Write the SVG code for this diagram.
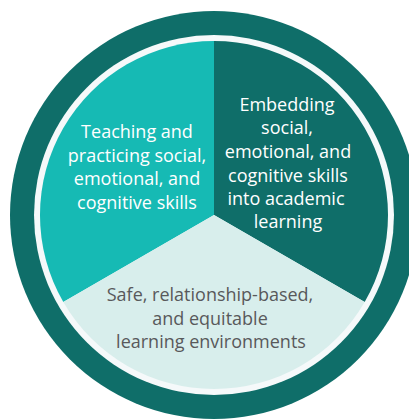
<svg xmlns="http://www.w3.org/2000/svg" width="409" height="419" viewBox="0 0 409 419">
  <style>
    .t { font-family: "Open Sans", "Liberation Sans", sans-serif; font-size: 18px; text-anchor: middle; }
    .w { fill: #ffffff; }
    .g { fill: #58595b; }
  </style>
  <rect width="409" height="419" fill="#ffffff"/>
  <g id="ring">
    <circle cx="214" cy="215" r="204" fill="#0f6e69"/>
    <circle cx="214" cy="215" r="180" fill="#f5f9fa"/>
  </g>
  <g id="node-teaching">
    <path d="M214,215 L214,41 A174,174 0 0 0 63.31,302 Z" fill="#16bab4"/>
    <text class="t w" x="137" y="138">Teaching and</text>
    <text class="t w" x="137" y="162">practicing social,</text>
    <text class="t w" x="137" y="185">emotional, and</text>
    <text class="t w" x="137" y="209">cognitive skills</text>
  </g>
  <g id="node-embedding">
    <path d="M214,215 L214,41 A174,174 0 0 1 364.69,302 Z" fill="#0f6e69"/>
    <text class="t w" x="287" y="111">Embedding</text>
    <text class="t w" x="287" y="134">social,</text>
    <text class="t w" x="288" y="158">emotional, and</text>
    <text class="t w" x="288" y="182">cognitive skills</text>
    <text class="t w" x="286" y="205">into academic</text>
    <text class="t w" x="288" y="228">learning</text>
  </g>
  <g id="node-safe">
    <path d="M214,215 L364.69,302 A174,174 0 0 1 63.31,302 Z" fill="#d8eeec"/>
    <text class="t g" x="210" y="301">Safe, relationship-based,</text>
    <text class="t g" x="210" y="325">and equitable</text>
    <text class="t g" x="211" y="348">learning environments</text>
  </g>
  <g id="connectors"></g>
</svg>
